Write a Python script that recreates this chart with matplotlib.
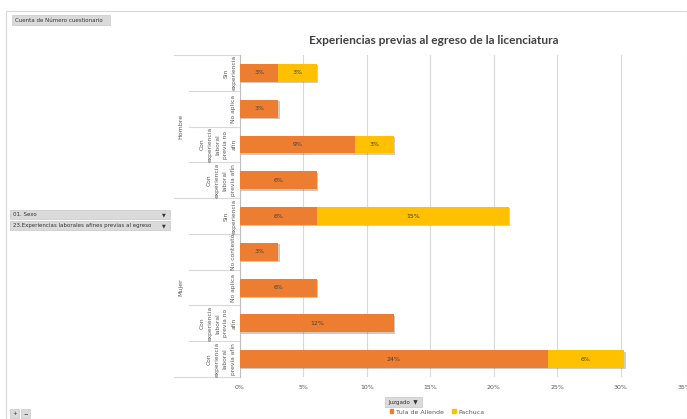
import matplotlib.pyplot as plt
import matplotlib.patches as patches
import matplotlib.patheffects as pe

# ----------------------------
# Datos (porcentaje del total de cuestionarios)
# ----------------------------
sexo = ['Hombre', 'Mujer']
categorias = [
    'Sin\nexperiencia',
    'No aplica',
    'Con\nexperiencia\nlaboral\nprevia no\nafín',
    'Con\nexperiencia\nlaboral\nprevia afín',
    'Sin\nexperiencia',
    'No contestó',
    'No aplica',
    'Con\nexperiencia\nlaboral\nprevia no\nafín',
    'Con\nexperiencia\nlaboral\nprevia afín',
]
grupo = ['Hombre'] * 4 + ['Mujer'] * 5
tula = [3.03, 3.03, 9.09, 6.06, 6.06, 3.03, 6.06, 12.12, 24.24]
pachuca = [3.03, 0, 3.03, 0, 15.15, 0, 0, 0, 6.06]
xticks = [0, 5, 10, 15, 20, 25, 30, 35]

c_tula = '#ED7D31'
c_pach = '#FFC000'
gris_txt = '#595959'

W, H = 687, 419
fig = plt.figure(figsize=(W / 100, H / 100), dpi=100)
fig.patch.set_facecolor('white')

def fx(px):
    return px / W

def fy(py):
    return 1 - py / H

ax = fig.add_axes([fx(240), fy(377), fx(684) - fx(240), fy(55) - fy(377)])

# ----------------------------
# Barras apiladas
# ----------------------------
y = list(range(len(categorias)))
sombra = [pe.SimplePatchShadow(offset=(1, -1), alpha=0.25), pe.Normal()]
b1 = ax.barh(y, tula, height=0.5, color=c_tula, zorder=3)
b2 = ax.barh(y, pachuca, left=tula, height=0.5, color=c_pach, zorder=3)
for b in list(b1) + list(b2):
    b.set_path_effects(sombra)

for i in y:
    if tula[i] > 0:
        ax.text(tula[i] / 2, i, f'{round(tula[i])}%', ha='center', va='center',
                fontsize=4.5, color='#404040', zorder=4)
    if pachuca[i] > 0:
        ax.text(tula[i] + pachuca[i] / 2, i, f'{round(pachuca[i])}%', ha='center',
                va='center', fontsize=4.5, color='#404040', zorder=4)

ax.set_xlim(0, 35)
ax.set_ylim(len(categorias) - 0.5, -0.5)
ax.set_xticks(xticks)
ax.set_xticklabels([f'{t}%' for t in xticks], fontsize=4.5, color=gris_txt)
ax.tick_params(axis='x', length=0, pad=6)
ax.set_yticks([])
ax.grid(axis='x', color='#D9D9D9', linewidth=0.8, zorder=0)
for s in ['top', 'right', 'bottom']:
    ax.spines[s].set_visible(False)
ax.spines['left'].set_color('#BFBFBF')
ax.spines['left'].set_linewidth(0.8)

# ----------------------------
# Etiquetas de categoria (estilo tabla dinamica)
# ----------------------------
tr = ax.get_yaxis_transform()
x_out = (174 - 240) / 444
x_in = (189 - 240) / 444
for i, cat in enumerate(categorias):
    ax.text(-0.008, i, cat, rotation=90, ha='right', va='center', fontsize=4.3,
            color=gris_txt, transform=tr, clip_on=False, linespacing=1.75,
            multialignment='center')
for yy in [0.5, 1.5, 2.5, 4.5, 5.5, 6.5, 7.5]:
    ax.plot([x_in, 0], [yy, yy], color='#D9D9D9', linewidth=0.8, transform=tr, clip_on=False)
for yy in [-0.5, 3.5, 8.5]:
    ax.plot([x_out, 0], [yy, yy], color='#D9D9D9', linewidth=0.8, transform=tr, clip_on=False)
for s in sexo:
    idx = [i for i, g in enumerate(grupo) if g == s]
    ax.text(-0.133, sum(idx) / len(idx), s, rotation=90, ha='center', va='center',
            fontsize=4.5, color=gris_txt, transform=tr, clip_on=False)

# ----------------------------
# Titulo y leyenda
# ----------------------------
fig.text(fx(434), fy(40), 'Experiencias previas al egreso de la licenciatura',
         ha='center', va='center', fontsize=8.6, fontweight='bold', color='#404040',
         family='Lato')
handles = [patches.Patch(color=c_tula, label='Tula de Allende'),
           patches.Patch(color=c_pach, label='Pachuca')]
fig.legend(handles=handles, loc='center', bbox_to_anchor=(fx(437), fy(412)), ncol=2,
           frameon=False, fontsize=4.5, handlelength=0.55, handleheight=0.55,
           handletextpad=0.4, columnspacing=1.4, labelcolor=gris_txt)

# ----------------------------
# Botones de la tabla dinamica
# ----------------------------
def boton(x0, y0, x1, y1, texto, flecha=False, centro=False):
    r = patches.Rectangle((fx(x0), fy(y1)), fx(x1) - fx(x0), fy(y0) - fy(y1),
                          transform=fig.transFigure, facecolor='#DADADA',
                          edgecolor='#C8C8C8', linewidth=0.5)
    fig.patches.append(r)
    if centro:
        fig.text(fx((x0 + x1) / 2), fy((y0 + y1) / 2), texto, ha='center', va='center',
                 fontsize=4, color='#333333')
    else:
        fig.text(fx(x0 + 3), fy((y0 + y1) / 2), texto, ha='left', va='center',
                 fontsize=4, color='#333333')
    if flecha:
        fig.text(fx(x1 - 6), fy((y0 + y1) / 2), '▼', ha='center', va='center',
                 fontsize=3.5, color='#333333')

boton(12, 15, 110, 25, 'Cuenta de Número cuestionario')
boton(10, 210, 170, 219, '01. Sexo', flecha=True)
boton(10, 221, 170, 230, '23.Experiencias laborales afines previas al egreso', flecha=True)
boton(385, 397, 422, 407, 'Juzgado  ▼', centro=True)
boton(10, 409, 19, 418, '+', centro=True)
boton(21, 409, 30, 418, '−', centro=True)

# marco del grafico
marco = patches.Rectangle((fx(6), 0), 1 - fx(6), fy(11), transform=fig.transFigure,
                          fill=False, edgecolor='#D9D9D9', linewidth=0.8)
fig.patches.append(marco)

fig.savefig('out.png', dpi=100)
